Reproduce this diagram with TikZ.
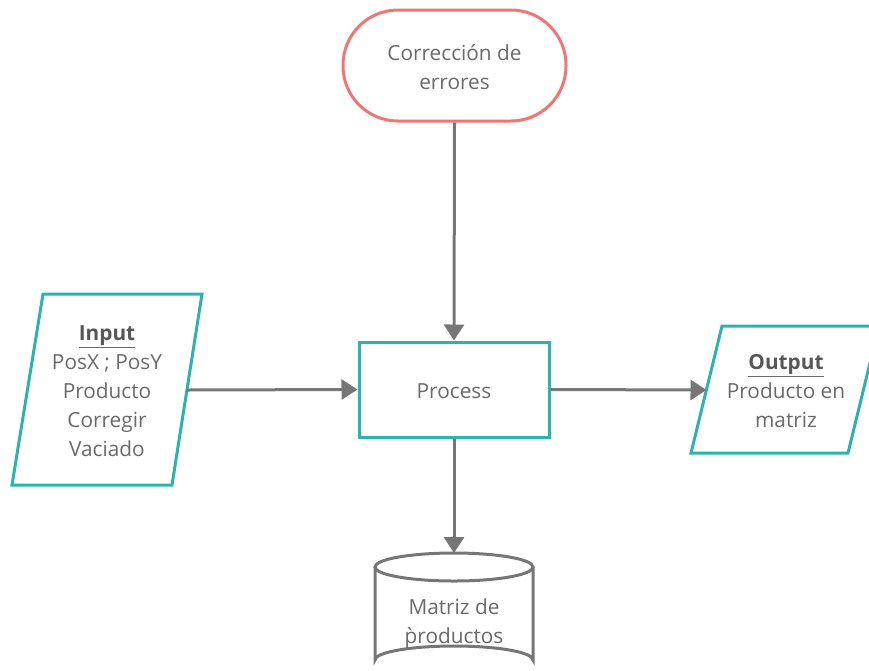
\documentclass[tikz,border=0pt]{standalone}
\usepackage{fontspec}
\setmainfont{Open Sans}
\usetikzlibrary{arrows.meta}
\definecolor{teal1}{HTML}{2DB3AE}
\definecolor{salmon}{HTML}{F07676}
\definecolor{wire}{HTML}{767676}
\definecolor{txt}{HTML}{6A6A6A}
\definecolor{hdr}{HTML}{575757}
\tikzset{
  lbl/.style={text=txt, font=\fontsize{20.8}{29}\selectfont, align=center, inner sep=0pt},
  flow/.style={draw=wire, line width=3pt, -{Triangle[length=16pt,width=20pt]}},
  procbox/.style={draw=teal1, line width=3pt, fill=white, minimum width=190pt, minimum height=95pt, inner sep=0pt},
  termbox/.style={draw=salmon, line width=3pt, fill=white, rounded corners=55pt, minimum width=223pt, minimum height=111pt, inner sep=0pt},
  io/.style={draw=teal1, line width=3pt, fill=white, line join=miter},
  store/.style={draw=wire, line width=3pt, fill=white},
}
\newcommand{\hdr}[1]{\underline{\textcolor{hdr}{\textbf{#1}}}}
\begin{document}
\begin{tikzpicture}[x=1pt,y=-1pt]
  \useasboundingbox (0,0) rectangle (869,670);
  \begin{scope}
  \clip (0,0) rectangle (869,670);

  % terminal
  \node[termbox] (corr) at (454.5,65.5) {};
  \node[lbl] (corrt) at (454.5,67) {Corrección de\\errores};

  % process
  \node[procbox] (proc) at (454,389.5) {};
  \node[lbl] (proct) at (454,391) {Process};

  % input parallelogram
  \draw[io] (43,294) -- (202,294) -- (172,485) -- (12,485) -- cycle;
  \coordinate (inR) at (186.5,390);
  \node[lbl] (inp) at (107,391) {\hdr{Input}\\PosX ; PosY\\Producto\\Corregir\\Vaciado};

  % output parallelogram (runs past the right edge)
  \draw[io] (722,326) -- (879,326) -- (848,453) -- (691,453) -- cycle;
  \coordinate (outL) at (706.5,390);
  \node[lbl] (outp) at (786,391) {\hdr{Output}\\Producto en\\matriz};

  % data store cylinder
  \draw[store] (375,567) -- (375,660) arc[start angle=180,end angle=360,x radius=79,y radius=14]
               -- (533,567);
  \draw[store] (454,567) ellipse[x radius=79,y radius=14];
  \coordinate (dbT) at (454,553);
  \node[lbl] (db) at (454,624) {Matriz de\\p̀roductos};

  % connectors
  \draw[flow] (corr.south) -- (proc.north);
  \draw[flow] (inR) -- (proc.west);
  \draw[flow] (proc.east) -- (outL);
  \draw[flow] (proc.south) -- (dbT);
  \end{scope}
\end{tikzpicture}
\end{document}
